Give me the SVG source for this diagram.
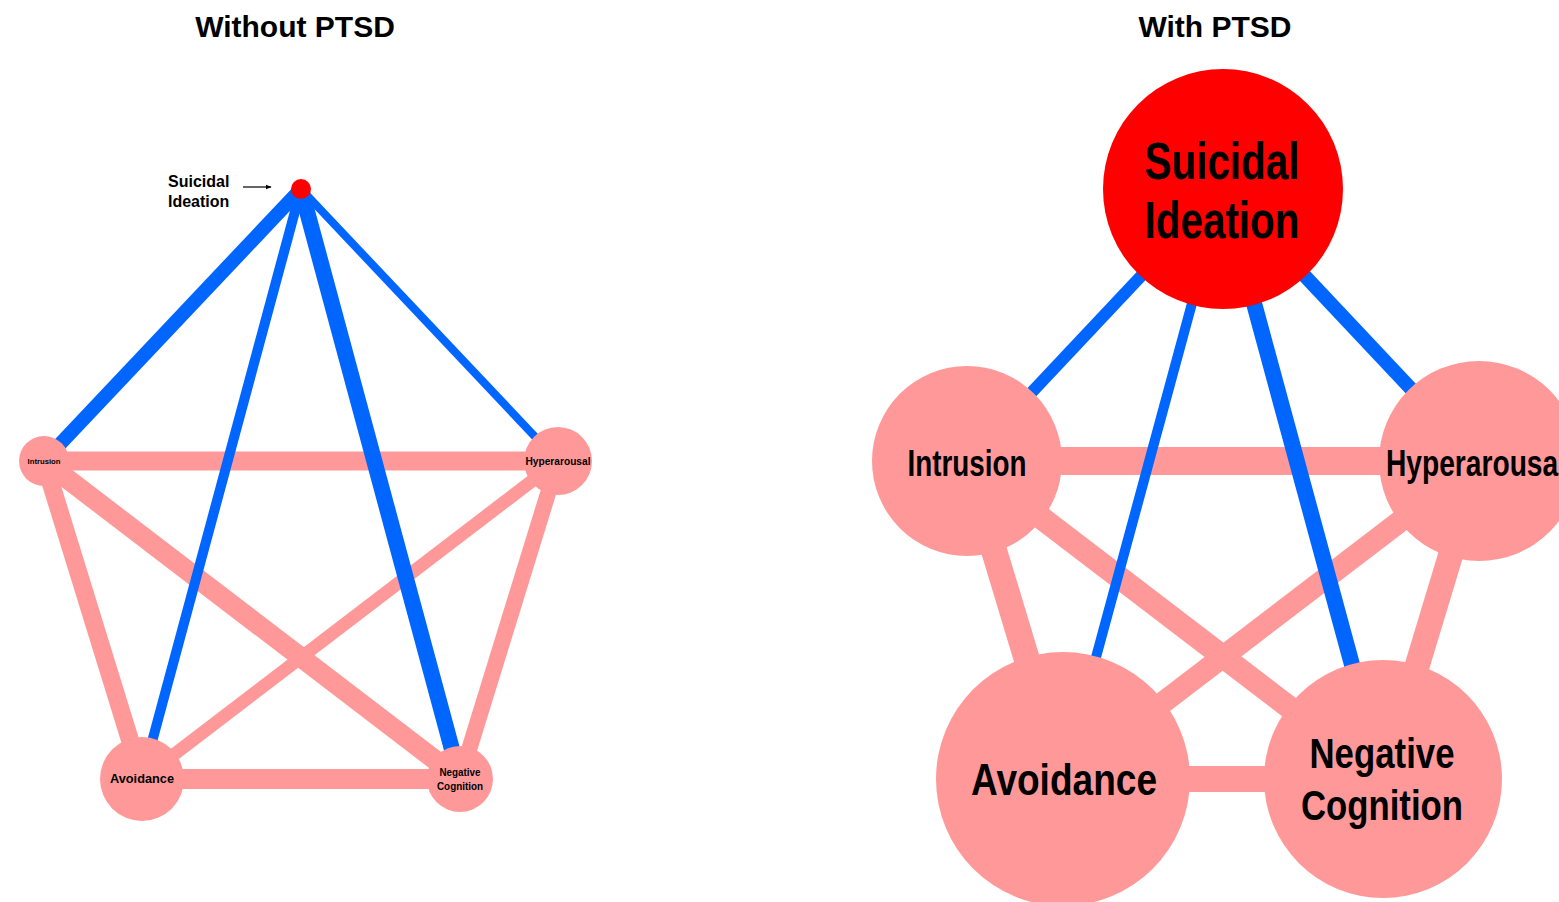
<svg xmlns="http://www.w3.org/2000/svg" width="1559" height="902" viewBox="0 0 1559 902">
<style>
.t{font-family:"Liberation Sans",Arial,sans-serif;font-weight:bold;fill:#000;text-anchor:middle}
.pk{stroke:#FF9999;fill:none}
.bl{stroke:#0066FF;fill:none}
.np{fill:#FF9999}
.ns{fill:#FF0000}
</style>
<defs>
<marker id="arr" viewBox="0 0 10 10" refX="9" refY="5" markerWidth="6" markerHeight="6" orient="auto" markerUnits="userSpaceOnUse">
<path d="M0,1 L10,5 L0,9 z" fill="#000"/>
</marker>
</defs>
<rect width="1559" height="902" fill="#fff"/>
<text class="t" x="295" y="37" font-size="30">Without PTSD</text>
<text class="t" x="1215" y="37" font-size="30">With PTSD</text>

<g id="edges-left">
<line class="pk" x1="44" y1="461" x2="558" y2="461" stroke-width="19"/>
<line class="pk" x1="44" y1="461" x2="142" y2="779" stroke-width="18"/>
<line class="pk" x1="44" y1="461" x2="460" y2="779" stroke-width="20"/>
<line class="pk" x1="558" y1="461" x2="142" y2="779" stroke-width="13"/>
<line class="pk" x1="558" y1="461" x2="460" y2="779" stroke-width="16"/>
<line class="pk" x1="142" y1="779" x2="460" y2="779" stroke-width="20"/>
<line class="bl" x1="301" y1="189" x2="44" y2="461" stroke-width="14"/>
<line class="bl" x1="301" y1="189" x2="142" y2="779" stroke-width="10"/>
<line class="bl" x1="301" y1="189" x2="460" y2="779" stroke-width="16"/>
<line class="bl" x1="301" y1="189" x2="558" y2="461" stroke-width="8"/>
<line x1="243" y1="187" x2="271" y2="187" stroke="#000" stroke-width="1.2" marker-end="url(#arr)"/>
</g>

<g id="L-si">
<circle class="ns" cx="301" cy="189" r="10"/>
<text class="t" x="168" y="187" font-size="16" style="text-anchor:start">Suicidal</text>
<text class="t" x="168" y="207" font-size="16" style="text-anchor:start">Ideation</text>
</g>
<g id="L-intrusion">
<circle class="np" cx="44" cy="461" r="25"/>
<text class="t" x="44" y="464" font-size="7.7">Intrusion</text>
</g>
<g id="L-hyperarousal">
<circle class="np" cx="558" cy="461" r="34"/>
<text class="t" x="558" y="465" font-size="11" textLength="65" lengthAdjust="spacingAndGlyphs">Hyperarousal</text>
</g>
<g id="L-avoidance">
<circle class="np" cx="142" cy="779" r="42"/>
<text class="t" x="142" y="783" font-size="13" textLength="64" lengthAdjust="spacingAndGlyphs">Avoidance</text>
</g>
<g id="L-negcog">
<circle class="np" cx="460" cy="779" r="33"/>
<text class="t" x="460" y="776" font-size="10.5" textLength="41" lengthAdjust="spacingAndGlyphs">Negative</text>
<text class="t" x="460" y="790" font-size="10.5" textLength="46" lengthAdjust="spacingAndGlyphs">Cognition</text>
</g>

<g id="edges-right">
<line class="pk" x1="967" y1="461" x2="1479" y2="461" stroke-width="28"/>
<line class="pk" x1="967" y1="461" x2="1063" y2="779" stroke-width="26"/>
<line class="pk" x1="967" y1="461" x2="1383" y2="779" stroke-width="23"/>
<line class="pk" x1="1479" y1="461" x2="1063" y2="779" stroke-width="22"/>
<line class="pk" x1="1479" y1="461" x2="1383" y2="779" stroke-width="25"/>
<line class="pk" x1="1063" y1="779" x2="1383" y2="779" stroke-width="26"/>
<line class="bl" x1="1223" y1="189" x2="967" y2="461" stroke-width="12"/>
<line class="bl" x1="1223" y1="189" x2="1063" y2="779" stroke-width="10"/>
<line class="bl" x1="1223" y1="189" x2="1383" y2="779" stroke-width="16"/>
<line class="bl" x1="1223" y1="189" x2="1479" y2="461" stroke-width="14"/>
</g>

<g id="R-si">
<circle class="ns" cx="1223" cy="189" r="120"/>
<text class="t" x="1222" y="179" font-size="52" textLength="155" lengthAdjust="spacingAndGlyphs">Suicidal</text>
<text class="t" x="1222" y="238" font-size="52" textLength="155" lengthAdjust="spacingAndGlyphs">Ideation</text>
</g>
<g id="R-intrusion">
<circle class="np" cx="967" cy="461" r="95"/>
<text class="t" x="967" y="476" font-size="36" textLength="119" lengthAdjust="spacingAndGlyphs">Intrusion</text>
</g>
<g id="R-hyperarousal">
<circle class="np" cx="1479" cy="461" r="100"/>
<text class="t" x="1476" y="476" font-size="36" textLength="180" lengthAdjust="spacingAndGlyphs">Hyperarousal</text>
</g>
<g id="R-avoidance">
<circle class="np" cx="1063" cy="779" r="127"/>
<text class="t" x="1064" y="795" font-size="44" textLength="186" lengthAdjust="spacingAndGlyphs">Avoidance</text>
</g>
<g id="R-negcog">
<circle class="np" cx="1383" cy="779" r="119"/>
<text class="t" x="1382" y="768" font-size="43" textLength="145" lengthAdjust="spacingAndGlyphs">Negative</text>
<text class="t" x="1382" y="820" font-size="43" textLength="162" lengthAdjust="spacingAndGlyphs">Cognition</text>
</g>
</svg>
